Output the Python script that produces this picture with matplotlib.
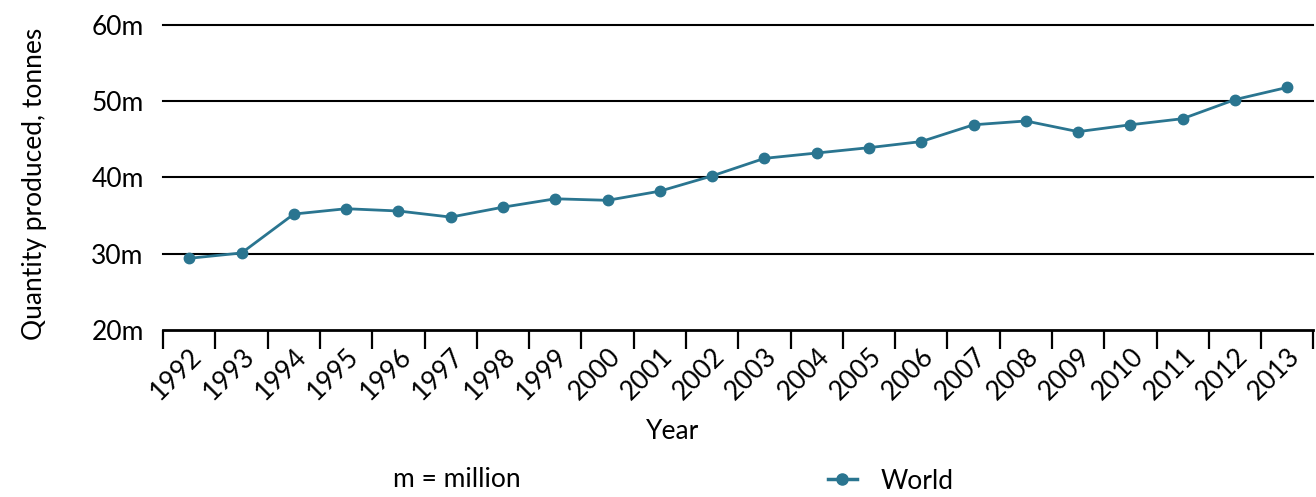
import matplotlib
matplotlib.use('Agg')
import matplotlib.pyplot as plt
from matplotlib.lines import Line2D
import numpy as np

plt.rcParams['font.family'] = ['Lato', 'DejaVu Sans']

years = [str(y) for y in range(1992, 2014)]
world = [29.4, 30.1, 35.2, 35.9, 35.6, 34.8, 36.1, 37.2, 37.0, 38.2, 40.2,
         42.5, 43.2, 43.9, 44.7, 46.9, 47.4, 46.0, 46.9, 47.7, 50.2, 51.8]
y_ticks = [20, 30, 40, 50, 60]
y_labels = ['20m', '30m', '40m', '50m', '60m']

color = '#2a7590'
fs = 19

fig = plt.figure(figsize=(13.16, 4.97), dpi=100)
ax = fig.add_axes([0.124, 0.336, 0.874, 0.614])

x = np.arange(len(years))
ax.plot(x, world, color=color, lw=2, marker='o', ms=7.5, zorder=3)

ax.set_xlim(-0.5, len(years) - 0.5)
ax.set_ylim(20, 60)

# horizontal grid lines, no box
for v in y_ticks[1:]:
    ax.axhline(v, color='black', lw=1.5, zorder=1, clip_on=False)
for s in ['left', 'right', 'top']:
    ax.spines[s].set_visible(False)
ax.spines['bottom'].set_linewidth(2)
ax.spines['bottom'].set_color('black')

ax.set_yticks(y_ticks)
ax.set_yticklabels(y_labels, fontsize=fs)
ax.tick_params(axis='y', length=0, pad=14)

# year labels at band centres, tick marks at band edges
ax.set_xticks(x)
ax.set_xticklabels(years, rotation=45, ha='right', rotation_mode='anchor', fontsize=fs)
ax.tick_params(axis='x', which='major', length=0, pad=10)
ax.set_xticks(np.arange(len(years) + 1) - 0.5, minor=True)
ax.tick_params(axis='x', which='minor', length=14, width=1.6, color='black')

ax.set_xlabel('Year', fontsize=fs)
ax.xaxis.set_label_coords(0.443, -0.29)
ax.set_ylabel('Quantity produced, tonnes', fontsize=fs)
ax.yaxis.set_label_coords(-0.101, 0.48)

fig.text(0.347, 0.035, 'm = million', fontsize=fs, ha='center', va='center')
handle = Line2D([], [], color=color, lw=2.5, marker='o', ms=8)
fig.legend([handle], ['World'], loc='center left', bbox_to_anchor=(0.611, 0.032),
           frameon=False, fontsize=fs, handlelength=1.1, handletextpad=0.9)

fig.savefig('out.png', dpi=100)
